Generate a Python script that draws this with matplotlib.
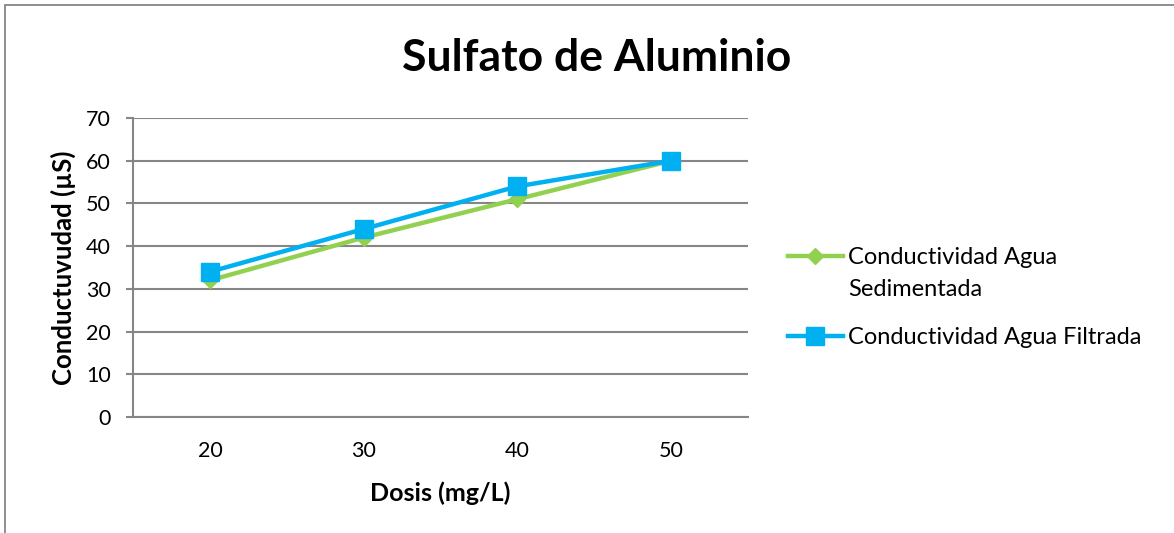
import matplotlib.pyplot as plt
from matplotlib.patches import Rectangle

plt.rcParams['font.family'] = ['Lato', 'DejaVu Sans']

# datos de dosis y conductividad
dosis = ['20', '30', '40', '50']
sedimentada = [32, 42, 51, 60]
filtrada = [34, 44, 54, 60]

fig = plt.figure(figsize=(11.74, 5.33), dpi=100)
ax = fig.add_axes([0.1133, 0.2176, 0.5238, 0.561])

x = range(len(dosis))
ax.plot(x, sedimentada, color='#92D050', lw=3.2, marker='D', ms=8,
        label='Conductividad Agua', zorder=3)
ax.plot(x, filtrada, color='#00B0F0', lw=3.2, marker='s', ms=12.5,
        label='Conductividad Agua Filtrada', zorder=4)

ax.set_xlim(-0.5, 3.5)
ax.set_ylim(0, 70)
ax.set_yticks(range(0, 71, 10))
ax.set_xticks(list(x))
ax.set_xticklabels(dosis)
ax.grid(axis='y', color='#868686', lw=1.5)
ax.set_axisbelow(True)
for s in ['top', 'right']:
    ax.spines[s].set_visible(False)
for s in ['left', 'bottom']:
    ax.spines[s].set_color('#868686')
    ax.spines[s].set_linewidth(1.5)
ax.tick_params(axis='y', length=5, width=1.5, color='#868686', labelsize=15.5, pad=11)
ax.tick_params(axis='x', length=0, labelsize=15.5, pad=17)

ax.set_xlabel('Dosis (mg/L)', fontsize=18, fontweight='bold', labelpad=15)
ax.set_ylabel('Conductuvudad (µS)', fontsize=18.5, fontweight='bold', labelpad=7)
fig.text(0.508, 0.891, 'Sulfato de Aluminio', fontsize=32, fontweight='bold',
         ha='center', va='center')

leg = fig.legend(loc='center left', bbox_to_anchor=(0.653, 0.441), frameon=False,
                 fontsize=17, handlelength=2.33, labelspacing=2.5, handletextpad=0.2)
# segunda línea de la primera etiqueta
fig.text(848 / 1174, 1 - 290 / 533, 'Sedimentada', fontsize=17, va='center')

# borde exterior del gráfico
fig.add_artist(Rectangle((0.004, -0.01), 1.0, 1.0, transform=fig.transFigure,
                         fill=False, edgecolor='#868686', lw=1.3))

fig.savefig('out.png', dpi=100)
